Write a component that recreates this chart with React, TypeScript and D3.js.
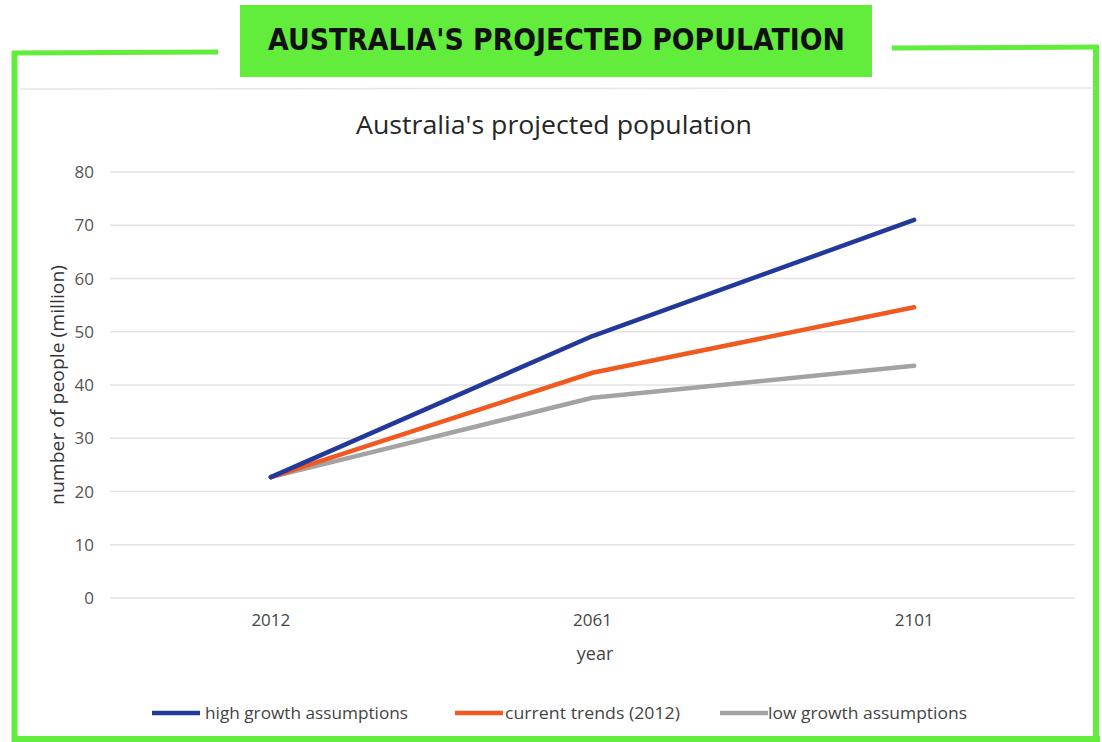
import React from "react";
import * as d3 from "d3";

const years = ["2012", "2061", "2101"];
const highGrowth = [22.7, 49.2, 71.0];
const currentTrends = [22.7, 42.3, 54.6];
const lowGrowth = [22.7, 37.6, 43.6];
const yTicks = [0, 10, 20, 30, 40, 50, 60, 70, 80];

const seriesNames = ["high growth assumptions", "current trends (2012)", "low growth assumptions"];
const seriesColors = ["#23399a", "#f0591f", "#a3a3a3"];
const seriesValues = [highGrowth, currentTrends, lowGrowth];

export default function App() {
  const W = 1102, H = 742;
  const green = "#62ec3c";
  const x = d3.scaleBand<string>().domain(years).range([110, 1075]);
  const y = d3.scaleLinear().domain([0, 80]).range([598, 172]);
  const line = d3
    .line<number>()
    .x((_, i) => (x(years[i]) as number) + x.bandwidth() / 2)
    .y((d) => y(d));
  const font = "'Open Sans', 'Liberation Sans', sans-serif";
  const legendX = [152, 455, 720];
  const legendTextX = [205, 505, 768];
  const legendTextW = [203, 175, 199];

  return (
    <svg width={W} height={H} style={{ position: "absolute", left: 0, top: 0, background: "#fff" }}>
      {/* frame */}
      <line x1={12} y1={53} x2={218} y2={52} stroke={green} strokeWidth={5} />
      <line x1={892} y1={48} x2={1098} y2={47} stroke={green} strokeWidth={5} />
      <line x1={14.5} y1={51} x2={14.5} y2={742} stroke={green} strokeWidth={6} />
      <line x1={1096} y1={45} x2={1096} y2={742} stroke={green} strokeWidth={6} />
      <line x1={12} y1={739} x2={1100} y2={739} stroke={green} strokeWidth={6} />
      <line x1={20} y1={89} x2={1092} y2={88} stroke="#e6e6e6" strokeWidth={1.5} />
      {/* banner */}
      <rect x={240} y={5} width={632} height={72} fill={green} />
      <text
        x={268}
        y={50}
        fontFamily="'DejaVu Sans', sans-serif"
        fontWeight={700}
        fontSize={30}
        fill="#111"
        textLength={577}
        lengthAdjust="spacingAndGlyphs"
      >
        AUSTRALIA'S PROJECTED POPULATION
      </text>
      {/* chart title */}
      <text
        x={356}
        y={134}
        fontFamily={font}
        fontSize={25}
        fill="#262626"
        textLength={396}
        lengthAdjust="spacingAndGlyphs"
      >
        Australia's projected population
      </text>
      {/* gridlines */}
      {yTicks.map((t) => (
        <g key={t}>
          <line x1={110} x2={1075} y1={y(t)} y2={y(t)} stroke="#e3e3e3" strokeWidth={1.5} />
          <text x={94} y={y(t) + 6} textAnchor="end" fontFamily={font} fontSize={17} fill="#555">
            {t}
          </text>
        </g>
      ))}
      {/* x labels */}
      {years.map((yr) => (
        <text
          key={yr}
          x={(x(yr) as number) + x.bandwidth() / 2}
          y={626}
          textAnchor="middle"
          fontFamily={font}
          fontSize={17}
          fill="#444"
        >
          {yr}
        </text>
      ))}
      <text x={595} y={660} textAnchor="middle" fontFamily={font} fontSize={18} fill="#444">
        year
      </text>
      <text
        transform={`translate(64,385) rotate(-90)`}
        textAnchor="middle"
        fontFamily={font}
        fontSize={19}
        fill="#333"
        textLength={240}
        lengthAdjust="spacingAndGlyphs"
      >
        number of people (million)
      </text>
      {/* lines */}
      {[2, 1, 0].map((i) => (
        <path
          key={i}
          d={line(seriesValues[i]) as string}
          fill="none"
          stroke={seriesColors[i]}
          strokeWidth={4.5}
          strokeLinejoin="round"
          strokeLinecap="round"
        />
      ))}
      {/* legend */}
      {seriesNames.map((n, i) => (
        <g key={n}>
          <line x1={legendX[i]} x2={legendX[i] + 48} y1={713} y2={713} stroke={seriesColors[i]} strokeWidth={4.5} />
          <text
            x={legendTextX[i]}
            y={719}
            fontFamily={font}
            fontSize={17}
            fill="#444"
            textLength={legendTextW[i]}
            lengthAdjust="spacingAndGlyphs"
          >
            {n}
          </text>
        </g>
      ))}
    </svg>
  );
}
